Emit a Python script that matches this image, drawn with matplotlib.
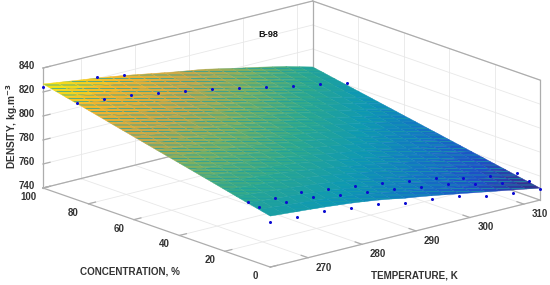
import numpy as np
import matplotlib
matplotlib.use("Agg")
import matplotlib.pyplot as plt
from matplotlib.colors import LinearSegmentedColormap
from mpl_toolkits.mplot3d import proj3d

plt.rcParams['font.family'] = ['Liberation Sans', 'DejaVu Sans']
plt.rcParams['hatch.color'] = (0.1, 0.08, 0.05, 0.3)
plt.rcParams['hatch.linewidth'] = 0.5

# surface (rows: concentration, columns: temperature)
surf_temp = [263 + 2.5 * i for i in range(21)]
surf_conc = [5 * i for i in range(21)]
surf_dens = [
    [782.5, 781.6, 780.7, 779.8, 778.8, 777.7, 776.5, 775.1, 773.5, 771.6, 769.5, 767.8, 766.0, 764.0, 762.0, 760.0, 758.0, 756.0, 754.0, 752.0, 750.0],
    [784.7, 783.8, 782.8, 781.9, 780.9, 779.8, 778.5, 777.1, 775.5, 773.6, 771.5, 769.8, 768.0, 766.0, 763.9, 761.9, 759.9, 757.9, 755.9, 753.8, 751.8],
    [786.9, 785.9, 785.0, 784.0, 783.0, 781.8, 780.6, 779.1, 777.5, 775.5, 773.5, 771.8, 770.0, 767.9, 765.9, 763.8, 761.8, 759.8, 757.7, 755.6, 753.5],
    [789.1, 788.1, 787.1, 786.1, 785.1, 783.9, 782.6, 781.1, 779.4, 777.5, 775.4, 773.7, 771.9, 769.9, 767.8, 765.7, 763.7, 761.6, 759.6, 757.4, 755.3],
    [791.3, 790.3, 789.3, 788.2, 787.1, 785.9, 784.6, 783.1, 781.4, 779.5, 777.4, 775.7, 773.9, 771.8, 769.7, 767.7, 765.6, 763.5, 761.4, 759.2, 757.0],
    [793.6, 792.5, 791.4, 790.4, 789.2, 788.0, 786.6, 785.1, 783.4, 781.5, 779.4, 777.7, 775.9, 773.8, 771.6, 769.6, 767.5, 765.4, 763.3, 761.0, 758.8],
    [795.8, 794.6, 793.5, 792.5, 791.3, 790.0, 788.7, 787.1, 785.4, 783.4, 781.4, 779.7, 777.9, 775.7, 773.6, 771.5, 769.4, 767.3, 765.1, 762.8, 760.5],
    [798.0, 796.8, 795.7, 794.6, 793.4, 792.1, 790.7, 789.1, 787.3, 785.4, 783.3, 781.6, 779.8, 777.7, 775.5, 773.4, 771.3, 769.1, 767.0, 764.6, 762.3],
    [800.2, 799.0, 797.8, 796.7, 795.5, 794.1, 792.7, 791.1, 789.3, 787.4, 785.3, 783.6, 781.8, 779.6, 777.4, 775.3, 773.2, 771.0, 768.8, 766.4, 764.0],
    [802.4, 801.2, 800.0, 798.8, 797.6, 796.2, 794.7, 793.1, 791.3, 789.3, 787.3, 785.6, 783.8, 781.6, 779.3, 777.2, 775.1, 772.9, 770.7, 768.2, 765.8],
    [804.6, 803.4, 802.1, 800.9, 799.7, 798.3, 796.8, 795.1, 793.3, 791.3, 789.3, 787.6, 785.8, 783.5, 781.3, 779.2, 777.0, 774.8, 772.5, 770.0, 767.5],
    [806.8, 805.5, 804.2, 803.0, 801.7, 800.3, 798.8, 797.0, 795.2, 793.3, 791.2, 789.5, 787.7, 785.5, 783.2, 781.1, 778.9, 776.6, 774.4, 771.8, 769.3],
    [809.0, 807.7, 806.4, 805.1, 803.8, 802.4, 800.8, 799.0, 797.2, 795.2, 793.2, 791.5, 789.7, 787.4, 785.1, 783.0, 780.8, 778.5, 776.2, 773.6, 771.0],
    [811.2, 809.9, 808.5, 807.2, 805.9, 804.4, 802.8, 801.0, 799.2, 797.2, 795.2, 793.5, 791.7, 789.4, 787.0, 784.9, 782.7, 780.4, 778.1, 775.4, 772.8],
    [813.4, 812.1, 810.7, 809.3, 808.0, 806.5, 804.9, 803.0, 801.2, 799.2, 797.2, 795.5, 793.7, 791.3, 789.0, 786.8, 784.6, 782.3, 779.9, 777.2, 774.5],
    [815.7, 814.2, 812.8, 811.5, 810.1, 808.5, 806.9, 805.0, 803.1, 801.2, 799.1, 797.4, 795.6, 793.3, 790.9, 788.7, 786.5, 784.1, 781.8, 779.0, 776.3],
    [817.9, 816.4, 814.9, 813.6, 812.2, 810.6, 808.9, 807.0, 805.1, 803.1, 801.1, 799.4, 797.6, 795.2, 792.8, 790.6, 788.4, 786.0, 783.6, 780.8, 778.0],
    [820.1, 818.6, 817.1, 815.7, 814.2, 812.6, 810.9, 809.0, 807.1, 805.1, 803.1, 801.4, 799.6, 797.2, 794.7, 792.6, 790.3, 787.9, 785.5, 782.6, 779.8],
    [822.3, 820.8, 819.2, 817.8, 816.3, 814.7, 813.0, 811.0, 809.1, 807.1, 805.1, 803.4, 801.6, 799.1, 796.7, 794.5, 792.2, 789.8, 787.3, 784.4, 781.5],
    [824.5, 822.9, 821.4, 819.9, 818.4, 816.7, 815.0, 813.0, 811.0, 809.0, 807.0, 805.3, 803.5, 801.1, 798.6, 796.4, 794.1, 791.6, 789.2, 786.2, 783.3],
    [826.7, 825.1, 823.5, 822.0, 820.5, 818.8, 817.0, 815.0, 813.0, 811.0, 809.0, 807.3, 805.5, 803.0, 800.5, 798.3, 796.0, 793.5, 791.0, 788.0, 785.0],
]

# measured points that can be seen in the picture
pts_temp = [263, 268, 273, 278, 283, 288, 293, 298, 303, 308, 313]
dens_c0 = [777.5, 776.0, 775.5, 772.4, 770.0, 765.4, 763.0, 760.0, 754.5, 751.4, 749.0]
dens_c5 = [786.7, 785.3, 783.9, 780.0, 776.9, 773.8, 769.9, 766.8, 761.2, 756.5, 752.5]
dens_c10 = [787.6, 785.3, 784.7, 781.7, 778.6, 775.5, 771.6, 768.5, 762.9, 759.0, 755.9]
dens_c85 = [820.7, 818.5, 816.2, 812.0, 808.4, 804.5, 799.7, 795.0, 790.2, 786.3, 781.5]
top_temp = [263, 273, 278]
dens_c100 = [824.0, 821.3, 817.4]

temp_ticks = [270, 280, 290, 300, 310]
conc_ticks = [0, 20, 40, 60, 80, 100]
dens_ticks = [740, 760, 780, 800, 820, 840]

T_lo, T_hi = 263, 313
C_lo, C_hi = 0, 100
D_lo, D_hi = 740, 840

parula = LinearSegmentedColormap.from_list('parula', [
    '#352a87', '#1f4fc8', '#1276c4', '#0d98b4', '#2fa98c',
    '#7cb062', '#c9a848', '#f5b52c', '#f4ee10'])

fig = plt.figure(figsize=(5.5, 2.85), dpi=100)
side = 700
aspect = (353, 352, 125.5)
ax = fig.add_axes([(275 - side / 2) / 550, (142.5 - side / 2) / 285, side / 550, side / 285],
                  projection='3d', computed_zorder=False, proj_type='ortho')
ax.view_init(elev=17.1, azim=-130.2)
ax.set_xlim(T_lo, T_hi)
ax.set_ylim(C_lo, C_hi)
ax.set_zlim(D_lo, D_hi)
ax.set_box_aspect(aspect)
ax.set_axis_off()


def to_px(t, c, d):
    x, y, _ = proj3d.proj_transform(t, c, d, ax.get_proj())
    return ax.transData.transform((x, y))


# fit the box on the pixel corners of the reference
p0 = to_px(T_lo, C_hi, D_lo)
p1 = to_px(T_hi, C_lo, D_lo)
ax.set_box_aspect(aspect, zoom=497 / (p1[0] - p0[0]))
p0 = to_px(T_lo, C_hi, D_lo)
pos = ax.get_position()
ax.set_position([pos.x0 + (43 - p0[0]) / 550, pos.y0 + (285 - 188 - p0[1]) / 285, pos.width, pos.height])

grid_c = '#e8e8e8'
edge_c = '#adadad'
kw = dict(color=grid_c, lw=0.6, zorder=1)
for t in temp_ticks:
    ax.plot([t, t], [C_lo, C_hi], [D_lo, D_lo], **kw)
    ax.plot([t, t], [C_hi, C_hi], [D_lo, D_hi], **kw)
for c in conc_ticks:
    ax.plot([T_lo, T_hi], [c, c], [D_lo, D_lo], **kw)
    ax.plot([T_hi, T_hi], [c, c], [D_lo, D_hi], **kw)
for d in dens_ticks:
    ax.plot([T_lo, T_hi], [C_hi, C_hi], [d, d], **kw)
    ax.plot([T_hi, T_hi], [C_lo, C_hi], [d, d], **kw)

# box edges
kw = dict(color=edge_c, lw=0.9, zorder=1.5)
ax.plot([T_lo, T_hi], [C_lo, C_lo], [D_lo, D_lo], **kw)
ax.plot([T_lo, T_lo], [C_lo, C_hi], [D_lo, D_lo], **kw)
ax.plot([T_lo, T_hi], [C_hi, C_hi], [D_lo, D_lo], **kw)
ax.plot([T_hi, T_hi], [C_lo, C_hi], [D_lo, D_lo], **kw)
ax.plot([T_lo, T_hi], [C_hi, C_hi], [D_hi, D_hi], **kw)
ax.plot([T_hi, T_hi], [C_lo, C_hi], [D_hi, D_hi], **kw)
ax.plot([T_lo, T_lo], [C_hi, C_hi], [D_lo, D_hi], **kw)
ax.plot([T_hi, T_hi], [C_hi, C_hi], [D_lo, D_hi], **kw)
ax.plot([T_hi, T_hi], [C_lo, C_lo], [D_lo, D_hi], **kw)

# ticks
for t in temp_ticks:
    ax.plot([t, t], [C_lo, C_lo + 3], [D_lo, D_lo], **kw)
for c in conc_ticks:
    ax.plot([T_lo, T_lo + 1.3], [c, c], [D_lo, D_lo], **kw)
for d in dens_ticks:
    ax.plot([T_lo, T_lo + 1.3], [C_hi, C_hi], [d, d], **kw)

X, Y = np.meshgrid(surf_temp, surf_conc)
Z = np.array(surf_dens)
colors = parula((Z - Z.min()) / (Z.max() - Z.min()))
surf = ax.plot_surface(X, Y, Z, facecolors=colors, rstride=1, cstride=1, shade=False,
                       linewidth=0.3, antialiased=True, zorder=2)
surf.set_hatch('-----')

for c, dens, temps in [(0, dens_c0, pts_temp), (5, dens_c5, pts_temp), (10, dens_c10, pts_temp),
                       (85, dens_c85, pts_temp), (100, dens_c100, top_temp)]:
    ax.plot(temps, [c] * len(temps), dens, 'o', color='#0a0ad2', ms=2.2, mew=0, zorder=3)


def label(text, t, c, d, dx, dy):
    x, y, _ = proj3d.proj_transform(t, c, d, ax.get_proj())
    ax.annotate(text, (x, y), xytext=(dx, dy), textcoords='offset pixels', ha='center', va='center',
                fontsize=7, fontweight='bold', color='#333333', annotation_clip=False)


for d in dens_ticks:
    label(str(d), T_lo, C_hi, d, -16, 2)
for c in conc_ticks:
    label(str(c), T_lo, c, D_lo, -15, -9)
for t in temp_ticks:
    label(str(t), t, C_lo, D_lo, 16, -10)

txt = dict(fontweight='bold', ha='center', va='center', color='#333333')
fig.text(130 / 550, 1 - 272 / 285, 'CONCENTRATION, %', fontsize=7.15, **txt)
fig.text(414 / 550, 1 - 275 / 285, 'TEMPERATURE, K', fontsize=7.15, **txt)
fig.text(12 / 550, 1 - 126 / 285, r'DENSITY, kg.m$^{\mathbf{-3}}$', fontsize=7.3, rotation=90, **txt)
fig.text(268 / 550, 1 - 35 / 285, 'B-98', fontsize=6.6, fontweight='bold', ha='center', va='center', color='#111111')

fig.savefig('out.png', dpi=100)
